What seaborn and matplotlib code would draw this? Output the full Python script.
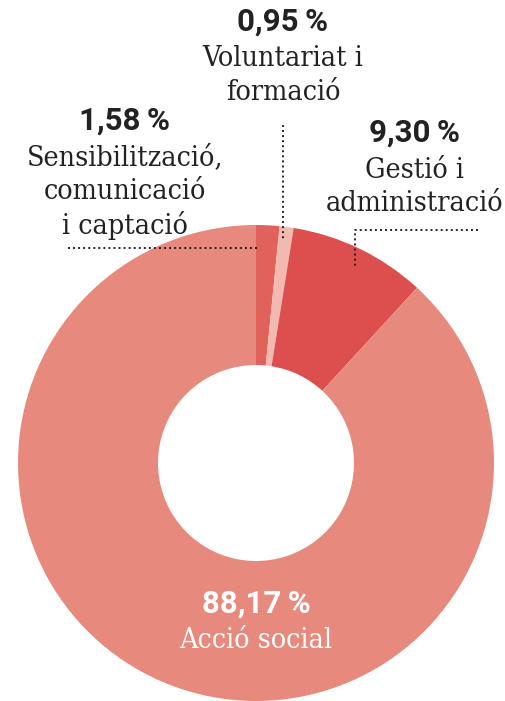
import matplotlib
matplotlib.use("Agg")
import matplotlib.pyplot as plt
import seaborn as sns

# Dades
categories = ["Sensibilització,\ncomunicació\ni captació", "Voluntariat i\nformació",
              "Gestió i\nadministració", "Acció social"]
values = [1.58, 0.95, 9.30, 88.17]
pct_labels = ["1,58\u2009%", "0,95\u2009%", "9,30\u2009%", "88,17\u2009%"]
colors = ["#E0625B", "#F1B9AF", "#DD4F4F", "#E8897D"]

sns.set_theme(style="white")
plt.rcParams["font.family"] = ["Roboto", "DejaVu Sans"]

W, H = 506, 701
fig = plt.figure(figsize=(W / 100, H / 100), dpi=100)
ax = fig.add_axes([0, 0, 1, 1])


def Y(py):
    # coordenades de píxel (de dalt a baix) -> eix
    return H - py


ax.pie(values, colors=colors, startangle=90, counterclock=False,
       center=(256, Y(463)), radius=238,
       wedgeprops=dict(width=140, linewidth=0))
ax.set_xlim(0, W)
ax.set_ylim(0, H)
ax.set_aspect("equal")
ax.axis("off")

num_font = dict(family=["Roboto", "DejaVu Sans"], weight="bold", size=22.5)
lab_font = dict(family="DejaVu Serif", fontstretch="condensed", size=20.5)
line_h = 34

# posicions de les etiquetes (x, y del percentatge)
label_pos = [(125, 121), (283, 22), (415, 133), (256, 604)]
for i, (x, y) in enumerate(label_pos):
    col = "white" if i == 3 else "#222222"
    ax.text(x, Y(y), pct_labels[i], ha="center", va="center", color=col, **num_font)
    for j, line in enumerate(categories[i].split("\n")):
        ax.text(x, Y(y + 37 + j * line_h), line, ha="center", va="center",
                color=col, **lab_font)

# línies de punts
dots = dict(color="#222222", lw=1.4, linestyle=(0, (1, 1.6)))
ax.plot([68, 260], [Y(248), Y(248)], **dots)
ax.plot([283, 283], [Y(125), Y(240)], **dots)
ax.plot([478, 355, 355], [Y(230), Y(230), Y(268)], **dots)

fig.savefig("out.png", dpi=100)
